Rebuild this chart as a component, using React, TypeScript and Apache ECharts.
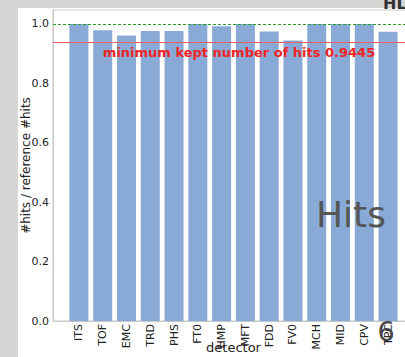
import React, { useEffect, useRef } from "react";
import * as echarts from "echarts";

const detectors = ["ITS", "TOF", "EMC", "TRD", "PHS", "FT0", "HMP", "MFT", "FDD", "FV0", "MCH", "MID", "CPV", "TPC"];
const hitRatios = [1.0, 0.979, 0.961, 0.976, 0.976, 1.0, 0.992, 1.0, 0.975, 0.944, 1.0, 1.0, 1.0, 0.974];
const yTicks = [0, 0.2, 0.4, 0.6, 0.8, 1.0];
const referenceLevel = 1.0;
const minKept = 0.9445;

export default function App() {
  const ref = useRef<HTMLDivElement>(null);
  useEffect(() => {
    if (!ref.current) return;
    const chart = echarts.init(ref.current, null, { renderer: "svg" });
    const font = "DejaVu Sans";
    chart.setOption({
      animation: false,
      backgroundColor: "#d4d7d3",
      textStyle: { fontFamily: font },
      graphic: [
        { type: "rect", z: -10, shape: { x: 18, y: 8, width: 400, height: 360 }, style: { fill: "#ffffff" } },
        {
          type: "text", z: 100, x: 239, y: 52,
          style: { text: "minimum kept number of hits " + minKept, fill: "#f02424", font: `bold 13px ${font}`, align: "center", verticalAlign: "middle" },
        },
        {
          type: "text", z: 100, x: 316, y: 214,
          style: { text: "Hits", fill: "#555555", font: `36px ${font}`, align: "left", verticalAlign: "middle" },
        },
        {
          type: "text", z: 100, x: 386, y: 331,
          style: { text: "6", fill: "#444444", font: `27px ${font}`, align: "center", verticalAlign: "middle" },
        },
        {
          type: "text", z: 100, x: 383, y: 11,
          style: { text: "HL", fill: "#333333", font: `bold 16px ${font}`, align: "left", verticalAlign: "bottom" },
        },
      ],
      grid: {
        left: 53, top: 10, right: -9, bottom: 36,
        outerBoundsMode: "none",
        containLabel: false,
        show: true, borderColor: "#c8c8c8", borderWidth: 1, backgroundColor: "transparent",
      },
      xAxis: {
        type: "value",
        min: -1.09,
        max: 14.09,
        name: "detector",
        nameLocation: "middle",
        nameGap: 20,
        nameMoveOverlap: false,
        nameTextStyle: { fontSize: 13, color: "#222", fontFamily: font },
        axisLine: { show: true, onZero: false, lineStyle: { color: "#c8c8c8" } },
        axisTick: { show: false, customValues: detectors.map((_, i) => i) },
        splitLine: { show: false },
        axisLabel: {
          customValues: detectors.map((_, i) => i),
          formatter: (v: number) => detectors[Math.round(v)] ?? "",
          rotate: 90,
          fontSize: 11,
          color: "#222",
          margin: 3,
          fontFamily: font,
        },
      },
      yAxis: {
        type: "value",
        min: 0,
        max: 1.047,
        name: "#hits / reference #hits",
        nameLocation: "middle",
        nameGap: 21,
        nameMoveOverlap: false,
        nameTextStyle: { fontSize: 12, color: "#222", fontFamily: font },
        axisLine: { show: true, onZero: false, lineStyle: { color: "#c8c8c8" } },
        axisTick: { show: false },
        splitLine: { show: false },
        axisLabel: {
          customValues: yTicks,
          formatter: (v: number) => v.toFixed(1),
          fontSize: 11,
          color: "#222",
          margin: 4,
          fontFamily: font,
        },
      },
      series: [
        {
          type: "bar",
          barWidth: 19,
          data: hitRatios.map((v, i) => [i, v]),
          itemStyle: { color: "#89aad7" },
          markLine: {
            silent: true,
            symbol: "none",
            label: { show: false },
            lineStyle: { color: "#e86060", type: "solid", width: 1.2 },
            data: [{ yAxis: minKept }],
          },
        },
        {
          type: "line",
          data: [],
          markLine: {
            silent: true,
            symbol: "none",
            label: { show: false },
            lineStyle: { color: "#2a9a2a", type: [3, 2], width: 1 },
            data: [{ yAxis: referenceLevel }],
          },
        },
      ],
    });
    return () => chart.dispose();
  }, []);
  return <div ref={ref} style={{ position: "fixed", left: 0, top: 0, width: 405, height: 357 }} />;
}
